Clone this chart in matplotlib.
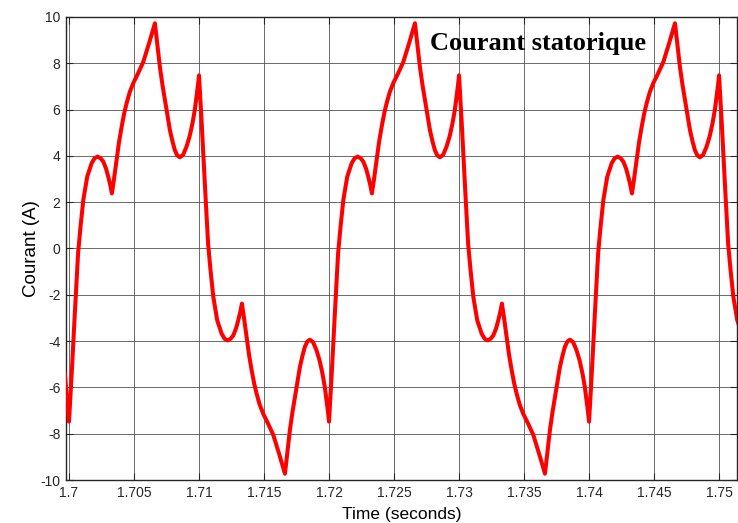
import matplotlib
matplotlib.use("Agg")
import matplotlib.pyplot as plt

# ---- data ----
time_s = [
    1.69968, 1.69981, 1.69992,
    # half-cycle starting 1.700 (positive)
    1.70000, 1.70020, 1.70045, 1.70070, 1.70088, 1.70110, 1.70140, 1.70174, 1.70197, 1.70220,
    1.70243, 1.70264, 1.70285, 1.70302, 1.70317, 1.70330, 1.70345, 1.70366, 1.70385, 1.70405,
    1.70425, 1.70443, 1.70467, 1.70494, 1.70530, 1.70571, 1.70615, 1.70661, 1.70680, 1.70699,
    1.70718, 1.70738, 1.70757, 1.70776, 1.70795, 1.70814, 1.70833, 1.70853, 1.70878, 1.70904,
    1.70928, 1.70950, 1.70968, 1.70981, 1.70992,
    # half-cycle starting 1.710 (negative)
    1.71000, 1.71020, 1.71045, 1.71070, 1.71088, 1.71110, 1.71140, 1.71174, 1.71197, 1.71220,
    1.71243, 1.71264, 1.71285, 1.71302, 1.71317, 1.71330, 1.71345, 1.71366, 1.71385, 1.71405,
    1.71425, 1.71443, 1.71467, 1.71494, 1.71530, 1.71571, 1.71615, 1.71661, 1.71680, 1.71699,
    1.71718, 1.71738, 1.71757, 1.71776, 1.71795, 1.71814, 1.71833, 1.71853, 1.71878, 1.71904,
    1.71928, 1.71950, 1.71968, 1.71981, 1.71992,
    # half-cycle starting 1.720 (positive)
    1.72000, 1.72020, 1.72045, 1.72070, 1.72088, 1.72110, 1.72140, 1.72174, 1.72197, 1.72220,
    1.72243, 1.72264, 1.72285, 1.72302, 1.72317, 1.72330, 1.72345, 1.72366, 1.72385, 1.72405,
    1.72425, 1.72443, 1.72467, 1.72494, 1.72530, 1.72571, 1.72615, 1.72661, 1.72680, 1.72699,
    1.72718, 1.72738, 1.72757, 1.72776, 1.72795, 1.72814, 1.72833, 1.72853, 1.72878, 1.72904,
    1.72928, 1.72950, 1.72968, 1.72981, 1.72992,
    # half-cycle starting 1.730 (negative)
    1.73000, 1.73020, 1.73045, 1.73070, 1.73088, 1.73110, 1.73140, 1.73174, 1.73197, 1.73220,
    1.73243, 1.73264, 1.73285, 1.73302, 1.73317, 1.73330, 1.73345, 1.73366, 1.73385, 1.73405,
    1.73425, 1.73443, 1.73467, 1.73494, 1.73530, 1.73571, 1.73615, 1.73661, 1.73680, 1.73699,
    1.73718, 1.73738, 1.73757, 1.73776, 1.73795, 1.73814, 1.73833, 1.73853, 1.73878, 1.73904,
    1.73928, 1.73950, 1.73968, 1.73981, 1.73992,
    # half-cycle starting 1.740 (positive)
    1.74000, 1.74020, 1.74045, 1.74070, 1.74088, 1.74110, 1.74140, 1.74174, 1.74197, 1.74220,
    1.74243, 1.74264, 1.74285, 1.74302, 1.74317, 1.74330, 1.74345, 1.74366, 1.74385, 1.74405,
    1.74425, 1.74443, 1.74467, 1.74494, 1.74530, 1.74571, 1.74615, 1.74661, 1.74680, 1.74699,
    1.74718, 1.74738, 1.74757, 1.74776, 1.74795, 1.74814, 1.74833, 1.74853, 1.74878, 1.74904,
    1.74928, 1.74950, 1.74968, 1.74981, 1.74992,
    # start of half-cycle 1.750 (negative)
    1.75000, 1.75020, 1.75045, 1.75070, 1.75088, 1.75110, 1.75140, 1.75174,
]

current_a = [
    -5.4, -6.3, -7.0,
    -7.48, -5.5, -2.8, -0.2, 0.9, 2.09, 3.1, 3.68, 3.9, 3.97,
    3.9, 3.75, 3.45, 3.1, 2.75, 2.38, 2.95, 3.82, 4.6, 5.26,
    5.85, 6.27, 6.75, 7.14, 7.55, 8.05, 8.85, 9.73, 8.8, 7.85,
    7.1, 6.41, 5.75, 5.12, 4.65, 4.25, 4.02, 3.94, 4.05, 4.4,
    4.85, 5.41, 6.0, 6.56, 7.05,
    7.48, 5.5, 2.8, 0.2, -0.9, -2.09, -3.1, -3.68, -3.9, -3.97,
    -3.9, -3.75, -3.45, -3.1, -2.75, -2.38, -2.95, -3.82, -4.6, -5.26,
    -5.85, -6.27, -6.75, -7.14, -7.55, -8.05, -8.85, -9.73, -8.8, -7.85,
    -7.1, -6.41, -5.75, -5.12, -4.65, -4.25, -4.02, -3.94, -4.05, -4.4,
    -4.85, -5.41, -6.0, -6.56, -7.05,
    -7.48, -5.5, -2.8, -0.2, 0.9, 2.09, 3.1, 3.68, 3.9, 3.97,
    3.9, 3.75, 3.45, 3.1, 2.75, 2.38, 2.95, 3.82, 4.6, 5.26,
    5.85, 6.27, 6.75, 7.14, 7.55, 8.05, 8.85, 9.73, 8.8, 7.85,
    7.1, 6.41, 5.75, 5.12, 4.65, 4.25, 4.02, 3.94, 4.05, 4.4,
    4.85, 5.41, 6.0, 6.56, 7.05,
    7.48, 5.5, 2.8, 0.2, -0.9, -2.09, -3.1, -3.68, -3.9, -3.97,
    -3.9, -3.75, -3.45, -3.1, -2.75, -2.38, -2.95, -3.82, -4.6, -5.26,
    -5.85, -6.27, -6.75, -7.14, -7.55, -8.05, -8.85, -9.73, -8.8, -7.85,
    -7.1, -6.41, -5.75, -5.12, -4.65, -4.25, -4.02, -3.94, -4.05, -4.4,
    -4.85, -5.41, -6.0, -6.56, -7.05,
    -7.48, -5.5, -2.8, -0.2, 0.9, 2.09, 3.1, 3.68, 3.9, 3.97,
    3.9, 3.75, 3.45, 3.1, 2.75, 2.38, 2.95, 3.82, 4.6, 5.26,
    5.85, 6.27, 6.75, 7.14, 7.55, 8.05, 8.85, 9.73, 8.8, 7.85,
    7.1, 6.41, 5.75, 5.12, 4.65, 4.25, 4.02, 3.94, 4.05, 4.4,
    4.85, 5.41, 6.0, 6.56, 7.05,
    7.48, 5.5, 2.8, 0.2, -0.9, -2.09, -3.1, -3.68,
]

x_ticks = [1.70, 1.705, 1.71, 1.715, 1.72, 1.725, 1.73, 1.735, 1.74, 1.745, 1.75]
x_tick_labels = ["1.7", "1.705", "1.71", "1.715", "1.72", "1.725", "1.73", "1.735", "1.74", "1.745", "1.75"]
y_ticks = [-10, -8, -6, -4, -2, 0, 2, 4, 6, 8, 10]
y_tick_labels = ["-10", "-8", "-6", "-4", "-2", "0", "2", "4", "6", "8", "10"]

title_text = "Courant statorique"
x_label = "Time (seconds)"
y_label = "Courant (A)"

# ---- figure ----
W, H = 738, 523
fig = plt.figure(figsize=(W / 100, H / 100), dpi=100)
fig.patch.set_facecolor("white")
ax = fig.add_axes([66 / W, 1 - 480 / H, (737 - 66) / W, (480 - 17) / H])

ax.plot(time_s, current_a, color="#ff0000", lw=2.9, solid_joinstyle="round", zorder=3)

ax.set_xlim(1.69977, 1.75138)
ax.set_ylim(-10, 10)
ax.set_xticks(x_ticks)
ax.set_xticklabels(x_tick_labels)
ax.set_yticks(y_ticks)
ax.set_yticklabels(y_tick_labels)

for lab in ax.get_xticklabels() + ax.get_yticklabels():
    lab.set_fontfamily("Liberation Sans")
    lab.set_fontsize(10)
    lab.set_color("#262626")

ax.tick_params(direction="in", length=5, width=0.8, color="#262626",
               top=True, right=True, labeltop=False, labelright=False, pad=4)
ax.grid(True, color="#505050", lw=0.7, alpha=0.85)
ax.set_axisbelow(True)
for s in ax.spines.values():
    s.set_color("#262626")
    s.set_linewidth(1.0)

ax.set_xlabel(x_label, fontfamily="Liberation Sans", fontsize=12.5, color="black", labelpad=5)
ax.set_ylabel(y_label, fontfamily="Liberation Sans", fontsize=13.5, color="black", labelpad=0)

ax.text(430 / W, 1 - 50 / H, title_text, transform=fig.transFigure,
        fontfamily="Liberation Serif", fontweight="bold", fontsize=19,
        color="black", ha="left", va="baseline", zorder=5)

fig.savefig("out.png", dpi=100, facecolor="white")
